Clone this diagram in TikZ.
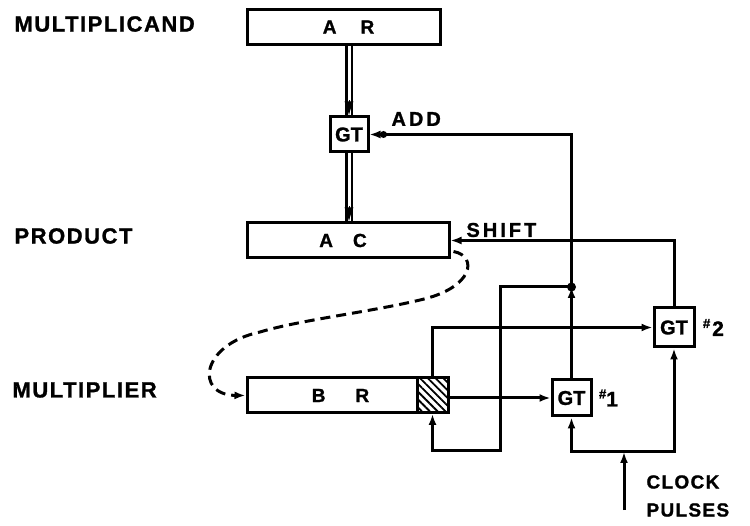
\documentclass[tikz,border=0pt]{standalone}
\usepackage{fontspec}
\setmainfont{Liberation Sans}
\newfontfamily\lab[LetterSpace=7,FakeBold=1.2]{Liberation Sans Bold}
\newfontfamily\labw[LetterSpace=15,FakeBold=1.2]{Liberation Sans Bold}
\newfontfamily\gtf[FakeBold=1.2]{Liberation Sans Bold}
\usetikzlibrary{arrows.meta,patterns.meta}
\begin{document}
\begin{tikzpicture}[x=1pt,y=-1pt,
  line width=3pt,
  >={Latex[length=11pt,width=8pt]},
  reg/.style={draw,minimum height=35pt,inner sep=0pt,font=\gtf\fontsize{19}{21}\selectfont},
  gate/.style={draw,minimum width=38pt,minimum height=35pt,inner sep=0pt,font=\gtf\fontsize{20}{22}\selectfont},
  txt/.style={anchor=west,inner sep=0pt,font=\lab\fontsize{22}{24}\selectfont},
  small/.style={anchor=west,inner sep=0pt,font=\lab\fontsize{19}{21}\selectfont},
  wide/.style={anchor=west,inner sep=0pt,font=\labw\fontsize{20}{22}\selectfont},
  tag/.style={anchor=west,inner sep=0pt,font=\gtf\fontsize{21}{23}\selectfont},
  jdot/.style={circle,fill,inner sep=0pt,minimum size=9pt},
  dbl/.style={double,double distance=3pt,line width=2.2pt}]
\useasboundingbox (0,0) rectangle (750,526);

% left labels
\node[txt] (lmc) at (13,24) {MULTIPLICAND};
\node[txt] (lpr) at (13,236) {PRODUCT};
\node[txt] (lmr) at (11,390) {MULTIPLIER};

% registers
\node[reg,minimum width=193pt] (ar) at (343.5,27) {\hspace{10pt}A\hspace{24pt}R};
\node[reg,minimum width=202pt] (ac) at (348,240.5) {\hspace{-10pt}A\hspace{20pt}C};
\node[reg,minimum width=201pt] (br) at (347.5,395.5) {\hspace{-14pt}B\hspace{30pt}R};
\node[draw,minimum width=31pt,minimum height=35pt,inner sep=0pt,
      pattern={Lines[angle=-45,distance=5.5pt,line width=1.8pt]}] (hatch) at (432.5,395.5) {};

% gates
\node[gate] (gt0) at (349,134.5) {GT};
\node[gate,minimum width=39pt,minimum height=36pt] (gt1) at (571.5,398) {GT};
\node[gate,minimum width=40pt,minimum height=39pt] (gt2) at (674,327.5) {GT};
\node[tag] (t1) at ([xshift=5pt]gt1.east) {\raisebox{8pt}{\fontsize{13}{14}\selectfont\#}1};
\node[tag] (t2) at ([xshift=6pt]gt2.east) {\raisebox{8pt}{\fontsize{13}{14}\selectfont\#}\hspace{2pt}2};

% other labels
\node[wide] (ladd) at (390,119) {ADD};
\node[wide] (lsh) at (465,230) {SHIFT};
\node[small] (lck) at (645,482) {CLOCK};
\node[small] (lps) at (645,510) {PULSES};

% coordinates
\coordinate (j) at (571.5,287);
\coordinate (clk) at (624,510);
\coordinate (cp) at (624,452);

% double transfer lines
\draw[dbl] (gt0.north |- ar.south) -- (gt0.north);
\draw[-{Latex[length=14pt,width=9pt]},line width=1pt] ([yshift=15pt]gt0.north) -- (gt0.north);
\draw[dbl] (gt0.south) -- (gt0.south |- ac.north);
\draw[-{Latex[length=14pt,width=9pt]},line width=1pt] ([yshift=15pt]gt0.south |- ac.north) -- (gt0.south |- ac.north);

% ADD path
\draw[->] (gt1.north) -- (j);
\draw[->] (j) |- (gt0.east);
\node[jdot] (jd) at (j) {};
\node[jdot,minimum size=7pt] (ad) at ([xshift=14pt]gt0.east) {};

% return to hatched stage
\draw[->] (j) -| (500,451) -| (hatch.south);

% hatched to gates
\draw[->] (hatch.north) |- (gt2.west);
\draw[->] (hatch.east |- gt1.west) -- (gt1.west);

% shift
\draw[->] (gt2.north) |- (ac.east);

% clock
\draw[->] (clk) -- (cp);
\draw[->] (cp) -| (gt1.south);
\draw[->] (cp) -| (gt2.south);

% dashed link AC -> BR
\draw[->,dashed,dash pattern=on 10pt off 6pt]
  ([shift={(3pt,8pt)}]ac.south east) .. controls (478,256) and (474,288) .. (420,300)
  .. controls (370,312) and (300,320) .. (260,332)
  .. controls (200,345) and (195,395) .. (br.west);
\end{tikzpicture}
\end{document}
